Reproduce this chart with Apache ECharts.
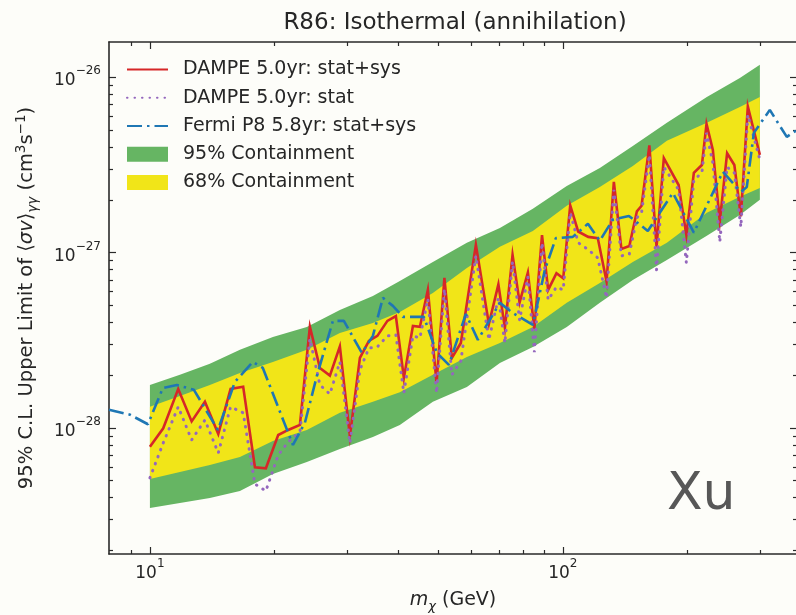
<!DOCTYPE html>
<html>
<head>
<meta charset="utf-8">
<script src="https://cdn.jsdelivr.net/npm/echarts@6/dist/echarts.min.js"></script>
<style>
html,body{margin:0;padding:0;background:#fdfdf9;}
#chart{width:796px;height:615px;}
</style>
</head>
<body>
<div id="chart"></div>
<script>
// ---------------- data ----------------
// x: m_chi in GeV ; y: <sigma v> upper limits in cm^3 s^-1
const massDampe = [10.0, 10.77, 11.71, 12.62, 13.59, 14.64, 15.68, 16.82, 17.96, 19.09,
  20.45, 21.62, 23.08, 24.40, 25.80, 27.28, 28.84, 30.50, 32.25, 33.91,
  35.55, 37.59, 39.41, 41.21, 43.34, 45.06, 47.11, 49.45, 51.66, 53.85,
  56.62, 61.57, 66.20, 69.80, 72.38, 75.54, 78.56, 82.28, 85.31, 89.03,
  92.13, 96.5, 100.2, 104.2, 108.9, 115.2, 121.5, 127.6, 132.9, 138.6,
  144.9, 151.1, 155.1, 162.0, 168.6, 175.6, 190.7, 199.1, 207.6, 217.1,
  222.8, 230.8, 239.9, 249.9, 260.2, 269.8, 280.5, 300.0];

const dampeStatSys = [7.82e-29, 9.96e-29, 1.67e-28, 1.09e-28, 1.41e-28, 9.24e-29, 1.67e-28, 1.72e-28, 5.97e-29, 5.89e-29,
  9.12e-29, 9.74e-29, 1.04e-28, 3.78e-28, 2.20e-28, 1.99e-28, 2.92e-28, 9.00e-29, 2.51e-28, 3.14e-28,
  3.35e-28, 4.08e-28, 4.35e-28, 1.93e-28, 3.82e-28, 3.77e-28, 6.13e-28, 1.81e-28, 7.17e-28, 2.51e-28,
  3.05e-28, 1.11e-27, 3.92e-28, 6.59e-28, 3.72e-28, 9.70e-28, 5.20e-28, 7.71e-28, 3.67e-28, 1.26e-27,
  6.13e-28, 7.63e-28, 7.14e-28, 1.86e-27, 1.32e-27, 1.23e-27, 1.21e-27, 6.85e-28, 2.53e-27, 1.05e-27,
  1.09e-27, 1.72e-27, 1.85e-27, 4.09e-27, 1.08e-27, 3.46e-27, 2.43e-27, 1.26e-27, 2.85e-27, 3.16e-27,
  5.42e-27, 3.85e-27, 1.51e-27, 3.69e-27, 3.16e-27, 1.61e-27, 6.81e-27, 3.61e-27];

const dampeStat = [5.19e-29, 8.21e-29, 1.32e-28, 8.54e-29, 1.11e-28, 7.20e-29, 1.32e-28, 1.22e-28, 4.79e-29, 4.37e-29,
  7.01e-29, 8.32e-29, 9.49e-29, 3.22e-28, 1.76e-28, 1.56e-28, 2.38e-28, 8.21e-29, 2.14e-28, 2.86e-28,
  2.90e-28, 3.35e-28, 3.39e-28, 1.58e-28, 3.35e-28, 3.26e-28, 5.44e-28, 1.58e-28, 6.21e-28, 2.01e-28,
  2.41e-28, 9.58e-28, 3.18e-28, 5.52e-28, 3.05e-28, 8.89e-28, 4.13e-28, 7.27e-28, 2.71e-28, 1.14e-27,
  5.37e-28, 6.37e-28, 6.13e-28, 1.69e-27, 1.14e-27, 1.04e-27, 9.33e-28, 5.52e-28, 2.28e-27, 9.58e-28,
  9.83e-28, 1.58e-27, 1.69e-27, 3.61e-27, 7.97e-28, 3.08e-27, 2.28e-27, 8.74e-28, 2.60e-27, 2.85e-27,
  4.82e-27, 3.25e-27, 1.15e-27, 3.08e-27, 2.85e-27, 1.40e-27, 6.10e-27, 3.38e-27];

const massFermi = [7.96, 8.95, 9.89, 10.75, 11.62, 12.78, 14.61, 16.06, 17.76, 18.77,
  22.20, 23.73, 25.37, 27.74, 29.49, 32.61, 34.67, 36.66, 38.76, 40.99,
  46.07, 49.53, 52.97, 58.22, 62.26, 70.39, 75.66, 84.59, 90.45, 96.16,
  105.7, 115.0, 122.9, 132.1, 144.5, 160.6, 184.7, 207.6, 244.0, 269.8,
  278.9, 290.1, 317.1, 348.6, 374.9];

const fermi = [1.27e-28, 1.19e-28, 1.05e-28, 1.69e-28, 1.76e-28, 1.65e-28, 9.74e-29, 1.83e-28, 2.38e-28, 2.20e-28,
  8.00e-29, 1.07e-28, 1.98e-28, 4.08e-28, 4.08e-28, 2.68e-28, 3.35e-28, 5.52e-28, 4.97e-28, 4.30e-28,
  4.30e-28, 2.68e-28, 2.29e-28, 4.47e-28, 3.18e-28, 5.17e-28, 4.53e-28, 3.87e-28, 7.97e-28, 1.21e-27,
  1.23e-27, 1.46e-27, 1.17e-27, 1.54e-27, 1.62e-27, 1.33e-27, 2.19e-27, 1.30e-27, 2.89e-27, 2.22e-27,
  2.37e-27, 4.82e-27, 6.52e-27, 4.57e-27, 5.14e-27];

const massBand = [10.0, 11.82, 13.97, 16.52, 19.85, 23.99, 28.84, 34.67, 40.29, 48.44,
  58.55, 70.39, 84.59, 102.2, 122.9, 147.7, 178.6, 223.2, 268.3, 300.0];
const band95Upper = [1.76e-28, 2.01e-28, 2.32e-28, 2.79e-28, 3.30e-28, 3.77e-28, 4.71e-28, 5.66e-28, 6.90e-28, 8.85e-28,
  1.14e-27, 1.38e-27, 1.78e-27, 2.40e-27, 3.04e-27, 4.06e-27, 5.50e-27, 7.73e-27, 9.92e-27, 1.18e-26];
const band68Upper = [1.32e-28, 1.52e-28, 1.76e-28, 2.06e-28, 2.38e-28, 2.79e-28, 3.48e-28, 3.97e-28, 4.59e-28, 5.89e-28,
  8.18e-28, 1.08e-27, 1.33e-27, 1.85e-27, 2.37e-27, 3.12e-27, 4.34e-27, 5.50e-27, 6.78e-27, 7.73e-27];
const band68Lower = [5.12e-29, 5.61e-29, 6.15e-29, 6.83e-29, 8.43e-29, 9.74e-29, 1.22e-28, 1.41e-28, 1.60e-28, 2.01e-28,
  2.54e-28, 3.05e-28, 3.77e-28, 5.17e-28, 6.72e-28, 8.85e-28, 1.14e-27, 1.69e-27, 2.08e-27, 2.34e-27];
const band95Lower = [3.50e-29, 3.73e-29, 3.99e-29, 4.37e-29, 5.47e-29, 6.40e-29, 7.59e-29, 8.89e-29, 1.04e-28, 1.41e-28,
  1.71e-28, 2.35e-28, 2.90e-28, 3.77e-28, 5.17e-28, 6.99e-28, 9.09e-28, 1.25e-27, 1.64e-27, 2.00e-27];

const xMajorTicks = [10, 100];
const xMinorTicks = [9, 20, 30, 40, 50, 60, 70, 80, 90, 200, 300];
const yMajorTicks = [1e-28, 1e-27, 1e-26];
const yMinorTicks = [2e-29, 3e-29, 4e-29, 5e-29, 6e-29, 7e-29, 8e-29, 9e-29,
  2e-28, 3e-28, 4e-28, 5e-28, 6e-28, 7e-28, 8e-28, 9e-28,
  2e-27, 3e-27, 4e-27, 5e-27, 6e-27, 7e-27, 8e-27, 9e-27];

const seriesNames = ['DAMPE 5.0yr: stat+sys', 'DAMPE 5.0yr: stat', 'Fermi P8 5.8yr: stat+sys',
  '95% Containment', '68% Containment'];

// ---------------- styling ----------------
const FONT = 'DejaVu Sans';
const TXT = '#262626';
const AXC = '#2a2a2a';
const RED = '#d62728', PURPLE = '#9467bd', BLUE = '#1f77b4';
const GREEN = '#66b563', YELLOW = '#f1e518';
const X_MIN = 7.96, X_MAX = 369;
const Y_MIN = 1.91e-29, Y_MAX = 1.59e-26;

// ECharts loses precision on numbers as tiny as 1e-29, so the y values are
// handed to the library in units of 1e-30 cm^3 s^-1 (labels undo this).
const Y_UNIT_EXP = -30;
const Y_UNIT = 1e-30;
const sy = v => v / Y_UNIT;

function powLabel(e) {
  return '{b|10}{e|' + (e < 0 ? '\u2212' + (-e) : String(e)) + '}';
}
const labelRich = {
  b: {fontFamily: FONT, fontSize: 17, lineHeight: 24, color: TXT, verticalAlign: 'bottom'},
  e: {fontFamily: FONT, fontSize: 12, lineHeight: 14, color: TXT, verticalAlign: 'top'}
};

function makeAxis(dim, position, major, withLine, withLabel) {
  const isX = dim === 'x';
  const ticks = isX ? (major ? xMajorTicks : xMinorTicks) : (major ? yMajorTicks : yMinorTicks).map(sy);
  const ax = {
    type: 'log', logBase: 10,
    min: isX ? X_MIN : sy(Y_MIN), max: isX ? X_MAX : sy(Y_MAX),
    position: position, gridIndex: 0,
    axisLine: {show: withLine, onZero: false, lineStyle: {color: AXC, width: 1.6}},
    axisTick: {show: true, inside: true, length: major ? 7 : 4, customValues: ticks,
      lineStyle: {color: AXC, width: 1.2}},
    axisLabel: {show: false},
    splitLine: {show: false},
    minorTick: {show: false}
  };
  if (withLabel) {
    ax.axisLabel = {show: true, customValues: isX ? xMajorTicks : yMajorTicks.map(sy),
      formatter: isX ? (v => powLabel(Math.round(Math.log10(v))))
                     : (v => powLabel(Math.round(Math.log10(v)) + Y_UNIT_EXP)),
      rich: labelRich, margin: isX ? 4 : 8, fontFamily: FONT, color: TXT};
  }
  return ax;
}

const xAxes = [
  makeAxis('x', 'bottom', true, true, true),
  makeAxis('x', 'bottom', false, false, false),
  makeAxis('x', 'top', true, true, false),
  makeAxis('x', 'top', false, false, false)
];
Object.assign(xAxes[0], {
  name: '{i|m}{s|\u03c7}{n| (GeV)}', nameLocation: 'middle', nameGap: 31,
  nameTextStyle: {fontFamily: FONT, fontSize: 19, lineHeight: 26, color: TXT,
    rich: {
      i: {fontFamily: FONT, fontSize: 19, fontStyle: 'italic', lineHeight: 26, color: TXT},
      s: {fontFamily: FONT, fontSize: 13, fontStyle: 'italic', lineHeight: 16, verticalAlign: 'bottom', color: TXT},
      n: {fontFamily: FONT, fontSize: 19, lineHeight: 26, color: TXT}
    }}
});

const yAxes = [
  makeAxis('y', 'left', true, true, true),
  makeAxis('y', 'left', false, false, false),
  makeAxis('y', 'right', true, true, false),
  makeAxis('y', 'right', false, false, false)
];
Object.assign(yAxes[0], {
  name: '{n|95% C.L. Upper Limit of \u27e8}{i|\u03c3v}{n|\u27e9}{s|\u03b3\u03b3}{n| (cm}{p|3}{n|s}{p|\u22121}{n|)}',
  nameLocation: 'middle', nameGap: 69, nameRotate: 90,
  nameTextStyle: {fontFamily: FONT, fontSize: 19.5, lineHeight: 26, color: TXT,
    rich: {
      n: {fontFamily: FONT, fontSize: 19.5, lineHeight: 26, color: TXT},
      i: {fontFamily: FONT, fontSize: 19.5, fontStyle: 'italic', lineHeight: 26, color: TXT},
      s: {fontFamily: FONT, fontSize: 13.5, fontStyle: 'italic', lineHeight: 16, verticalAlign: 'bottom', color: TXT},
      p: {fontFamily: FONT, fontSize: 13.5, lineHeight: 16, verticalAlign: 'top', color: TXT}
    }}
});

const pairs = (xs, ys) => xs.map((x, i) => [x, sy(ys[i])]);
const bandRows = (xs, lo, hi) => xs.map((x, i) => [x, sy(lo[i]), sy(hi[i])]);
const noSymbol = {color: 'rgba(0,0,0,0)', borderWidth: 0, opacity: 0};

// one filled polygon per band, built from every row through the axes' scales
function bandRenderer(color) {
  return function (params, api) {
    if (params.dataIndexInside !== 0) return null;
    const n = params.dataInsideLength;
    const top = [], bottom = [];
    for (let i = 0; i < n; i++) {
      const x = api.value(0, i);
      bottom.push(api.coord([x, api.value(1, i)]));
      top.push(api.coord([x, api.value(2, i)]));
    }
    return {
      type: 'polygon', silent: true,
      shape: {points: top.concat(bottom.reverse())},
      style: {fill: color, stroke: null}
    };
  };
}

const option = {
  backgroundColor: '#fdfdf9',
  animation: false,
  title: {
    text: 'R86: Isothermal (annihilation)', left: 455, top: 12, padding: 0, textAlign: 'center',
    textStyle: {fontFamily: FONT, fontSize: 23, fontWeight: 'normal', color: TXT}
  },
  grid: {left: 109, top: 42, width: 688, height: 512, outerBoundsMode: 'none', containLabel: false},
  legend: {
    orient: 'vertical', left: 126, top: 60, padding: 0, itemWidth: 41, itemHeight: 15, itemGap: 9.25,
    selectedMode: false,
    textStyle: {fontFamily: FONT, fontSize: 19, color: TXT, padding: [0, 0, 0, 10]},
    data: [
      {name: seriesNames[0], itemStyle: noSymbol},
      {name: seriesNames[1], itemStyle: noSymbol},
      {name: seriesNames[2], itemStyle: noSymbol},
      {name: seriesNames[3], icon: 'rect'},
      {name: seriesNames[4], icon: 'rect'}]
  },
  xAxis: xAxes,
  yAxis: yAxes,
  graphic: [{
    type: 'text', left: 667, top: 469, silent: true,
    style: {text: 'Xu', fontFamily: FONT, fontSize: 52, fill: '#575757'}
  }],
  series: [
    {name: seriesNames[3], type: 'custom', data: bandRows(massBand, band95Lower, band95Upper),
      encode: {x: 0, y: [1, 2]}, renderItem: bandRenderer(GREEN),
      color: GREEN, itemStyle: {color: GREEN}, silent: true, z: 1},
    {name: seriesNames[4], type: 'custom', data: bandRows(massBand, band68Lower, band68Upper),
      encode: {x: 0, y: [1, 2]}, renderItem: bandRenderer(YELLOW),
      color: YELLOW, itemStyle: {color: YELLOW}, silent: true, z: 1},
    {name: seriesNames[0], type: 'line', data: pairs(massDampe, dampeStatSys), symbol: 'none',
      color: RED, lineStyle: {color: RED, width: 2.6, join: 'miter'}, z: 3},
    {name: seriesNames[1], type: 'line', data: pairs(massDampe, dampeStat), symbol: 'none',
      color: PURPLE, lineStyle: {color: PURPLE, width: 3, type: [0.5, 7], cap: 'round'}, z: 4},
    {name: seriesNames[2], type: 'line', data: pairs(massFermi, fermi), symbol: 'none',
      color: BLUE, lineStyle: {color: BLUE, width: 2.6, type: [15, 5, 2.5, 5]}, z: 5}
  ]
};

const chart = echarts.init(document.getElementById('chart'), null, {renderer: 'canvas'});
chart.setOption(option);
</script>
</body>
</html>
